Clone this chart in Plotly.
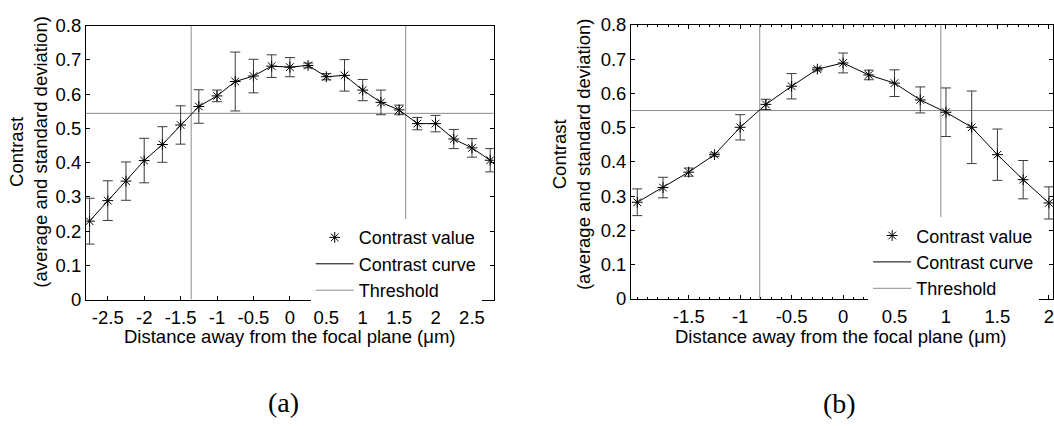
import plotly.graph_objects as go

# ---------------- data: panel (a) ----------------
x_a = [-2.75, -2.5, -2.25, -2.0, -1.75, -1.5, -1.25, -1.0, -0.75, -0.5, -0.25, 0.0,
       0.25, 0.5, 0.75, 1.0, 1.25, 1.5, 1.75, 2.0, 2.25, 2.5, 2.75]
y_a = [0.229, 0.289, 0.346, 0.406, 0.453, 0.510, 0.564, 0.595, 0.637, 0.653, 0.682, 0.679,
       0.684, 0.651, 0.655, 0.612, 0.576, 0.554, 0.514, 0.514, 0.469, 0.443, 0.407]
std_a = [0.067, 0.058, 0.056, 0.065, 0.052, 0.056, 0.049, 0.017, 0.086, 0.049, 0.033, 0.028,
         0.007, 0.009, 0.046, 0.031, 0.036, 0.014, 0.018, 0.024, 0.028, 0.027, 0.034]
threshold_a = 0.544
crossings_a = [-1.355, 1.59]
xrange_a = [-2.8, 2.8]
xtickvals_a = [-2.5, -2.0, -1.5, -1.0, -0.5, 0.0, 0.5, 1.0, 1.5, 2.0, 2.5]
xticktext_a = ["-2.5", "-2", "-1.5", "-1", "-0.5", "0", "0.5", "1", "1.5", "2", "2.5"]

# ---------------- data: panel (b) ----------------
x_b = [-2.0, -1.75, -1.5, -1.25, -1.0, -0.75, -0.5, -0.25, 0.0, 0.25, 0.5, 0.75,
       1.0, 1.25, 1.5, 1.75, 2.0]
y_b = [0.282, 0.325, 0.370, 0.421, 0.501, 0.568, 0.621, 0.671, 0.689, 0.654, 0.630, 0.581,
       0.545, 0.501, 0.421, 0.348, 0.280]
std_b = [0.039, 0.030, 0.012, 0.005, 0.037, 0.015, 0.037, 0.005, 0.029, 0.014, 0.039, 0.038,
         0.071, 0.106, 0.075, 0.056, 0.047]
threshold_b = 0.55
crossings_b = [-0.81, 0.95]
xrange_b = [-2.06, 2.04]
xtickvals_b = [-1.5, -1.0, -0.5, 0.0, 0.5, 1.0, 1.5, 2.0]
xticktext_b = ["-1.5", "-1", "-0.5", "0", "0.5", "1", "1.5", "2"]

yrange = [0, 0.8]
x_title = "Distance away from the focal plane (\u03bcm)"
y_title = "Contrast<br>(average and standard deviation)"
panel_labels = ["(a)", "(b)"]

W, H = 1054, 426
FONT = "Liberation Sans, Arial, sans-serif"
FS = 18.5
GRAY = "#8c8c8c"
ERR = "#3c3c3c"


def px_x(p):
    return p / W


def px_y(p):
    return 1 - p / H


fig = go.Figure()


def add_panel(xs, ys, stds, thr, crossings, xr, xaxis, yaxis, legend):
    # threshold line
    fig.add_trace(go.Scatter(
        x=xr, y=[thr, thr], mode="lines", name="Threshold",
        line=dict(color=GRAY, width=1), xaxis=xaxis, yaxis=yaxis,
        legend=legend, legendrank=3, hoverinfo="skip"))
    # vertical crossing lines
    for c in crossings:
        fig.add_trace(go.Scatter(
            x=[c, c], y=yrange, mode="lines", showlegend=False,
            line=dict(color=GRAY, width=1), xaxis=xaxis, yaxis=yaxis,
            legend=legend, hoverinfo="skip"))
    # curve
    fig.add_trace(go.Scatter(
        x=xs, y=ys, mode="lines", name="Contrast curve",
        line=dict(color="black", width=1), xaxis=xaxis, yaxis=yaxis,
        legend=legend, legendrank=2))
    # values with error bars
    fig.add_trace(go.Scatter(
        x=xs, y=ys, mode="markers", name="Contrast value",
        marker=dict(symbol="asterisk-open", size=9, color="black",
                    line=dict(color="black", width=1)),
        error_y=dict(type="data", array=stds, visible=True, color=ERR,
                     thickness=1, width=5),
        xaxis=xaxis, yaxis=yaxis, legend=legend, legendrank=1))


add_panel(x_a, y_a, std_a, threshold_a, crossings_a, xrange_a, "x", "y", "legend")
add_panel(x_b, y_b, std_b, threshold_b, crossings_b, xrange_b, "x2", "y2", "legend2")

tickfont = dict(family=FONT, size=FS, color="black")

axis_common = dict(showgrid=False, zeroline=False, showline=True, linecolor="black",
                   linewidth=1, ticks="inside", ticklen=4, tickcolor="black",
                   tickfont=tickfont, ticklabeloverflow="allow")

legend_common = dict(bgcolor="white", borderwidth=0, font=dict(family=FONT, size=18, color="black"),
                     traceorder="normal", itemwidth=38, tracegroupgap=0,
                     xanchor="left", yanchor="top")

fig.update_layout(
    width=W, height=H, autosize=False,
    margin=dict(l=0, r=0, t=0, b=0, pad=0),
    paper_bgcolor="white", plot_bgcolor="white",
    font=dict(family=FONT, size=FS, color="black"),
    xaxis=dict(domain=[px_x(86), px_x(494.3)], range=xrange_a, anchor="y",
               tickvals=xtickvals_a, ticktext=xticktext_a, mirror=True,
               ticklabelstandoff=1, **axis_common),
    yaxis=dict(domain=[px_y(303.5), px_y(15.5)], range=yrange, anchor="x",
               dtick=0.1, tick0=0, mirror="ticks", **axis_common),
    xaxis2=dict(domain=[px_x(631.7), 1.0], range=xrange_b, anchor="y2",
                tickvals=xtickvals_b, ticktext=xticktext_b, mirror="ticks",
                ticklabelstandoff=1,
                minor=dict(dtick=0.1, tick0=0, ticks="inside", ticklen=2, tickcolor="black"),
                **axis_common),
    yaxis2=dict(domain=[px_y(302.7), px_y(14.7)], range=yrange, anchor="x2",
                dtick=0.1, tick0=0, mirror="ticks", **axis_common),
    legend=dict(x=px_x(311), y=px_y(219), **legend_common),
    legend2=dict(x=px_x(869), y=px_y(217), **legend_common),
    showlegend=True,
)

annotations = [
    dict(text=y_title, x=px_x(29), y=px_y(148), textangle=-90),
    dict(text=y_title, x=px_x(572), y=px_y(150), textangle=-90),
    dict(text=x_title, x=px_x(290), y=px_y(342)),
    dict(text=x_title, x=px_x(841), y=px_y(342)),
    dict(text=panel_labels[0], x=px_x(284), y=px_y(412),
         font=dict(family="Liberation Serif, Times New Roman, serif", size=28, color="black")),
    dict(text=panel_labels[1], x=px_x(840), y=px_y(413),
         font=dict(family="Liberation Serif, Times New Roman, serif", size=28, color="black")),
]
for a in annotations:
    a.setdefault("font", dict(family=FONT, size=FS, color="black"))
    fig.add_annotation(xref="paper", yref="paper", showarrow=False,
                       xanchor="center", yanchor="middle", **a)

fig.write_html("out.html")
